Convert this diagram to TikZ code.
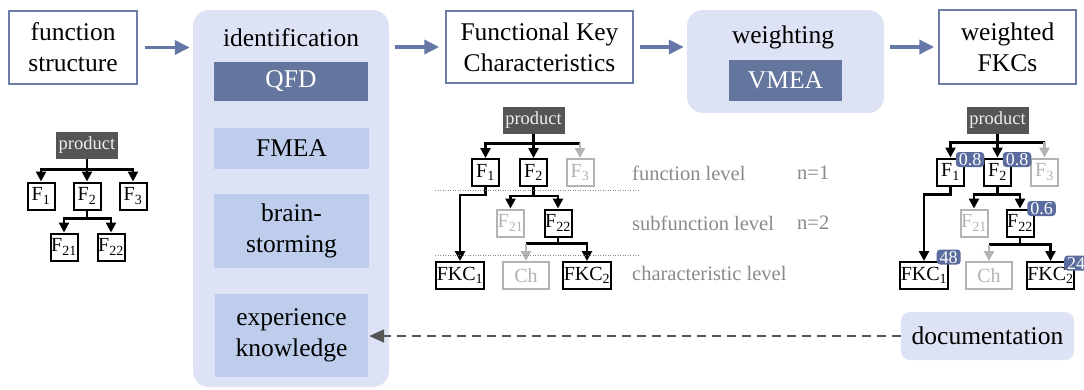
\documentclass[tikz,border=0pt]{standalone}
\usepackage{fontspec}
\setmainfont{Liberation Serif}
\usetikzlibrary{arrows.meta,calc}

\definecolor{contfill}{HTML}{DDE3F4}
\definecolor{subfill}{HTML}{BDCDEB}
\definecolor{darkfill}{HTML}{65769E}
\definecolor{flowc}{HTML}{6477A7}
\definecolor{borderc}{HTML}{6C7CA6}
\definecolor{badgec}{HTML}{5A6C9E}
\definecolor{prodfill}{HTML}{555555}
\definecolor{prodtext}{HTML}{EEEEEE}
\definecolor{gtext}{HTML}{8A8A8A}
\definecolor{gnode}{HTML}{B3B3B3}
\definecolor{dashc}{HTML}{555555}

\newcommand{\fsMain}{\fontsize{25.5}{31}\selectfont}
\newcommand{\fsTree}{\fontsize{20}{22}\selectfont}
\newcommand{\fsProd}{\fontsize{18.5}{20}\selectfont}
\newcommand{\fsLevel}{\fontsize{20.5}{24}\selectfont}
\newcommand{\fsBadge}{\fontsize{18}{20}\selectfont}

\tikzset{
  topbox/.style={draw=borderc, line width=1.5pt, fill=white, align=center, font=\fsMain, inner sep=0pt},
  container/.style={fill=contfill, rounded corners=16pt, inner sep=0pt},
  method/.style={fill=subfill, align=center, font=\fsMain, inner sep=0pt},
  darkmethod/.style={fill=darkfill, text=white, font=\fsMain, inner sep=0pt},
  flow/.style={draw=flowc, line width=3.5pt, -{Triangle[length=15pt,width=14pt]}},
  prod/.style={fill=prodfill, text=prodtext, font=\fsProd, minimum width=62pt, minimum height=27pt, inner sep=0pt},
  fn/.style={draw=black, line width=2pt, fill=white, font=\fsTree, minimum size=27pt, inner sep=0.5pt},
  fnoff/.style={fn, draw=gnode, text=gnode},
  fkc/.style={fn, minimum width=46pt},
  fkcoff/.style={fkc, draw=gnode, text=gnode},
  tline/.style={draw=black, line width=2.6pt},
  tarr/.style={tline, -{Triangle[length=10pt,width=10pt]}},
  garr/.style={draw=gnode, line width=2.6pt, -{Triangle[length=10pt,width=10pt]}},
  lvl/.style={text=gtext, font=\fsLevel, anchor=west, inner sep=0pt},
  levelsep/.style={draw=gtext, line width=1pt, dash pattern=on 1pt off 1.5pt},
  badge/.style={fill=badgec, text=white, rounded corners=3.5pt, font=\fsBadge, inner xsep=3pt, inner ysep=1.5pt, text height=12pt, text depth=0pt},
  feedback/.style={draw=dashc, line width=2.2pt, dash pattern=on 9pt off 6pt, -{Triangle[length=15pt,width=13pt]}}
}

\begin{document}
\begin{tikzpicture}[x=1pt,y=-1pt]
\useasboundingbox (0,0) rectangle (1084,389);

% ---------- process chain ----------
\node[topbox, minimum width=128pt, minimum height=73pt] (fs) at (73,47.5) {function\\structure};

\node[container, minimum width=196pt, minimum height=377pt] (ident) at (291,198.5) {};
\node[font=\fsMain, inner sep=0pt] (identt) at (291,38) {identification};
\node[darkmethod, minimum width=154pt, minimum height=39pt] (qfd) at (291,81.5) {QFD};
\node[method, minimum width=155pt, minimum height=41pt] (fmea) at (291.5,148.5) {FMEA};
\node[method, minimum width=155pt, minimum height=74pt] (brain) at (291.5,231) {brain-\\storming};
\node[method, minimum width=153pt, minimum height=83pt] (exp) at (291.5,335.5) {experience\\knowledge};

\node[topbox, minimum width=187pt, minimum height=72pt] (fkc) at (539.5,47) {Functional Key\\Characteristics};

\node[container, minimum width=197pt, minimum height=103pt] (weigh) at (785.5,61.5) {};
\node[font=\fsMain, inner sep=0pt] (weight) at (783,37) {weighting};
\node[darkmethod, minimum width=113pt, minimum height=41pt] (vmea) at (785.5,80.5) {VMEA};

\node[topbox, minimum width=137pt, minimum height=74pt] (wfkc) at (1007.5,47) {weighted\\FKCs};

\node[container, rounded corners=9pt, minimum width=173pt, minimum height=48pt, font=\fsMain] (doc) at (987.5,336) {documentation};

\draw[flow, shorten <=7pt, shorten >=3pt] (fs.east) -- (fs.east -| ident.west);
\draw[flow, shorten <=6pt, shorten >=6pt] (ident.east |- fkc.west) -- (fkc.west);
\draw[flow, shorten <=6pt, shorten >=3pt] (fkc.east) -- (fkc.east -| weigh.west);
\draw[flow, shorten <=6pt, shorten >=4pt] (weigh.east |- wfkc.west) -- (wfkc.west);
\draw[feedback, shorten >=1pt] (doc.west) -- (doc.west -| exp.east);

% ---------- function structure tree ----------
\node[prod] (lp) at (87,145) {product};
\node[fn] (l1) at (41,196) {F\textsubscript{1}};
\node[fn] (l2) at (87,196) {F\textsubscript{2}};
\node[fn] (l3) at (133,196) {F\textsubscript{3}};
\node[fn] (l21) at (64,247) {F\textsubscript{21}};
\node[fn] (l22) at (111,247) {F\textsubscript{22}};
\draw[tarr] (lp.south) -- ++(0,11) -| (l1.north);
\draw[tarr] (lp.south) -- (l2.north);
\draw[tarr] (lp.south) -- ++(0,11) -| (l3.north);
\draw[tarr] (l2.south) -- ++(0,8) -| (l21.north);
\draw[tarr] (l2.south) -- ++(0,8) -| (l22.north);

% ---------- functional key characteristics tree ----------
\node[prod] (mp) at (533.5,120.5) {product};
\node[fn] (m1) at (485.5,172.5) {F\textsubscript{1}};
\node[fn] (m2) at (533.5,172.5) {F\textsubscript{2}};
\node[fnoff] (m3) at (580,172.5) {F\textsubscript{3}};
\node[fnoff] (m21) at (510.5,223) {F\textsubscript{21}};
\node[fn] (m22) at (558,223) {F\textsubscript{22}};
\node[fkc] (mk1) at (460,275.5) {FKC\textsubscript{1}};
\node[fkcoff] (mch) at (526,275.5) {Ch};
\node[fkc] (mk2) at (587,275.5) {FKC\textsubscript{2}};

\coordinate (mb) at ($(mp.south)+(0,9)$);
\draw[tarr] (mp.south) -- (mb) -| (m1.north);
\draw[tarr] (mp.south) -- (m2.north);
\draw[tline] (mb) -- (mb -| m3.north);
\draw[garr] (mb -| m3.north) -- (m3.north);
\draw[tarr] (m1.south) -- ++(0,8) -| (mk1.north);
\draw[tarr] (m2.south) -- ++(0,9) -| (m21.north);
\draw[tarr] (m2.south) -- ++(0,9) -| (m22.north);
\coordinate (mb2) at ($(m22.south)+(0,6)$);
\draw[tline] (mb2) -- (mb2 -| mch.north);
\draw[garr] (mb2 -| mch.north) -- (mch.north);
\draw[tarr] (m22.south) -- (mb2) -| (mk2.north);

\draw[levelsep] (435,190) -- (638,190);
\draw[levelsep] (435,255) -- (638,255);
\node[lvl] (lv1) at (632,173) {function level};
\node[lvl] (lv2) at (632,223) {subfunction level};
\node[lvl] (lv3) at (632,273) {characteristic level};
\node[lvl] (n1) at (797,173) {n=1};
\node[lvl] (n2) at (797,223) {n=2};

% ---------- weighted tree ----------
\node[prod] (rp) at (997.5,120.5) {product};
\node[fn] (r1) at (950.5,172) {F\textsubscript{1}};
\node[fn] (r2) at (997.5,172) {F\textsubscript{2}};
\node[fnoff] (r3) at (1044.5,172) {F\textsubscript{3}};
\node[fnoff] (r21) at (974,223) {F\textsubscript{21}};
\node[fn] (r22) at (1020,223) {F\textsubscript{22}};
\node[fkc] (rk1) at (924,275.5) {FKC\textsubscript{1}};
\node[fkcoff] (rch) at (989,275.5) {Ch};
\node[fkc] (rk2) at (1050.5,275.5) {FKC\textsubscript{2}};

\coordinate (rb) at ($(rp.south)+(0,8)$);
\draw[tarr] (rp.south) -- (rb) -| (r1.north);
\draw[tarr] (rp.south) -- (r2.north);
\draw[tline] (rb) -- (rb -| r3.north);
\draw[garr] (rb -| r3.north) -- (r3.north);
\draw[tarr] (r1.south) -- ++(0,8) -| (rk1.north);
\draw[tarr] (r2.south) -- ++(0,8) -| (r21.north);
\draw[tarr] (r2.south) -- ++(0,8) -| (r22.north);
\coordinate (rb2) at ($(r22.south)+(0,7)$);
\draw[tline] (rb2) -- (rb2 -| rch.north);
\draw[garr] (rb2 -| rch.north) -- (rch.north);
\draw[tarr] (r22.south) -- (rb2) -| (rk2.north);

\node[badge] (w1) at ($(r1.north east)+(5,2)$) {0.8};
\node[badge] (w2) at ($(r2.north east)+(5,2)$) {0.8};
\node[badge] (w22) at ($(r22.north east)+(7,0)$) {0.6};
\node[badge] (wk1) at ($(rk1.north east)+(0,-4)$) {48};
\node[badge] (wk2) at ($(rk2.north east)+(1,2)$) {24};
\end{tikzpicture}
\end{document}
